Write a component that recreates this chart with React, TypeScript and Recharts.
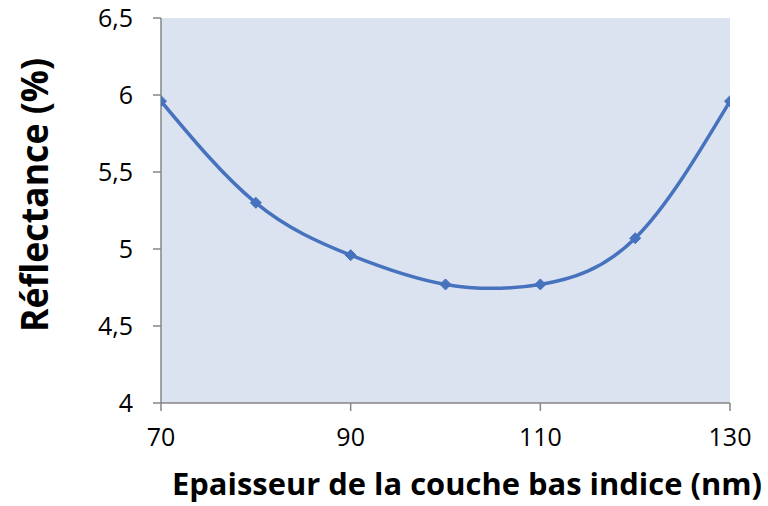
import React from "react";
import { LineChart, Line, XAxis, YAxis, CartesianGrid, Label } from "recharts";

const thickness = [70, 80, 90, 100, 110, 120, 130];
const reflectance = [5.96, 5.3, 4.96, 4.77, 4.77, 5.07, 5.96];
const xTicks = [70, 90, 110, 130];
const yTicks = [4, 4.5, 5, 5.5, 6, 6.5];

const data = thickness.map((t, i) => ({ t, r: reflectance[i] }));

const LINE = "#4672BE";
const AXIS = "#868686";
const FONT = "'Open Sans', 'Liberation Sans', Arial, sans-serif";

const fmt = (v: number) => String(v).replace(".", ",");

const Diamond = (props: any) => {
  const { cx, cy } = props;
  if (cx == null || cy == null) return null;
  const s = 5.5;
  return (
    <path
      d={`M${cx},${cy - s}L${cx + s},${cy}L${cx},${cy + s}L${cx - s},${cy}Z`}
      fill={LINE}
      stroke={LINE}
      strokeWidth={1}
    />
  );
};

const YTitle = () => {
  const cx = 48;
  const cy = 195;
  return (
    <text
      x={cx}
      y={cy}
      transform={`rotate(-90 ${cx} ${cy})`}
      textAnchor="middle"
      fontFamily={FONT}
      fontWeight="bold"
      fontSize={37}
      fill="#000"
      textLength={274}
      lengthAdjust="spacingAndGlyphs"
    >
      Réflectance (%)
    </text>
  );
};

const XTitle = () => {
  return (
    <text
      x={467}
      y={495}
      textAnchor="middle"
      fontFamily={FONT}
      fontWeight="bold"
      fontSize={31}
      fill="#000"
      textLength={590}
      lengthAdjust="spacingAndGlyphs"
    >
      Epaisseur de la couche bas indice (nm)
    </text>
  );
};

export default function App() {
  return (
    <div style={{ position: "absolute", left: 0, top: 0, width: 768, height: 506, background: "#fff" }}>
      <LineChart
        width={768}
        height={506}
        data={data}
        margin={{ top: 18, right: 38, bottom: 0, left: 0 }}
      >
        <CartesianGrid fill="#DCE3F0" stroke="none" horizontal={false} vertical={false} />
        <XAxis
          dataKey="t"
          type="number"
          domain={[70, 130]}
          ticks={xTicks}
          height={103}
          tickSize={8}
          tickMargin={17}
          tickFormatter={fmt}
          stroke={AXIS}
          strokeWidth={1.5}
          tick={{ fill: "#000", fontSize: 25, fontFamily: FONT }}
          allowDataOverflow
        >
          <Label content={<XTitle />} />
        </XAxis>
        <YAxis
          type="number"
          domain={[4, 6.5]}
          ticks={yTicks}
          width={161}
          tickSize={8}
          tickMargin={20}
          tickFormatter={fmt}
          stroke={AXIS}
          strokeWidth={1.5}
          tick={{ fill: "#000", fontSize: 25, fontFamily: FONT }}
          allowDataOverflow
        >
          <Label content={<YTitle />} />
        </YAxis>
        <Line
          dataKey="r"
          type="natural"
          stroke={LINE}
          strokeWidth={3.5}
          dot={<Diamond />}
          activeDot={false}
          isAnimationActive={false}
        />
      </LineChart>
    </div>
  );
}
